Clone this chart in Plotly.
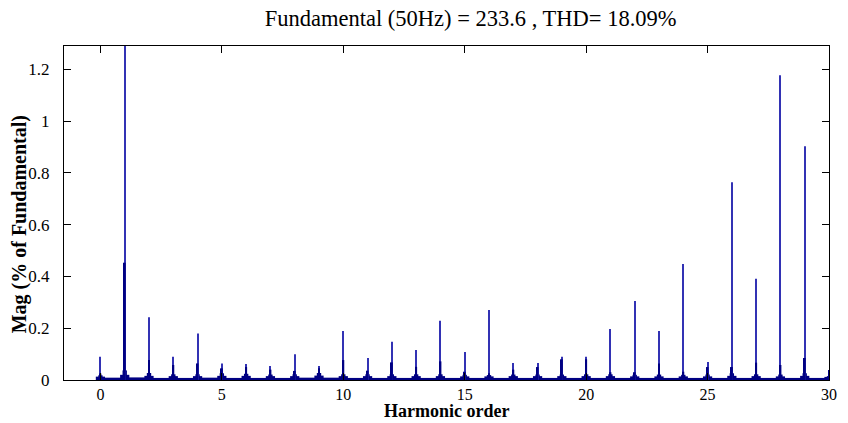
import plotly.graph_objects as go

# Harmonic orders
harmonics = list(range(0, 31))

# Main (thin) spike magnitude at each harmonic, % of fundamental (fundamental clipped)
peak = [0.090, 100.0, 0.242, 0.090, 0.180, 0.064, 0.062, 0.054, 0.099, 0.054,
        0.189, 0.085, 0.148, 0.116, 0.229, 0.108, 0.270, 0.066, 0.066, 0.090,
        0.090, 0.197, 0.305, 0.189, 0.448, 0.070, 0.764, 0.391, 1.177, 0.903,
        0.039]

# Thicker base part of each spike
base = [0.025, 0.453, 0.077, 0.058, 0.064, 0.045, 0.050, 0.040, 0.035, 0.045,
        0.077, 0.036, 0.068, 0.051, 0.072, 0.032, 0.026, 0.040, 0.050, 0.080,
        0.080, 0.030, 0.030, 0.064, 0.032, 0.050, 0.050, 0.067, 0.058, 0.085,
        0.039]

# Inner skirt around each harmonic
skirt_in = [0.018, 0.037, 0.027, 0.022, 0.022, 0.026, 0.024, 0.021, 0.022, 0.027,
            0.022, 0.022, 0.022, 0.022, 0.022, 0.020, 0.019, 0.021, 0.021, 0.021,
            0.022, 0.022, 0.020, 0.021, 0.020, 0.021, 0.026, 0.022, 0.021, 0.026,
            0.015]

# Outer skirt around each harmonic
skirt_out = [0.013, 0.020, 0.016, 0.015, 0.015, 0.016, 0.016, 0.015, 0.015, 0.017,
             0.015, 0.015, 0.015, 0.015, 0.015, 0.014, 0.014, 0.015, 0.015, 0.015,
             0.015, 0.015, 0.014, 0.014, 0.014, 0.014, 0.016, 0.015, 0.014, 0.016,
             0.012]

# Noise floor between consecutive harmonics (interval centres)
floor_x = [h + 0.5 for h in range(0, 30)]
floor_y = [0.009, 0.010, 0.008, 0.008, 0.009, 0.008, 0.008, 0.008, 0.009, 0.009,
           0.008, 0.008, 0.008, 0.008, 0.008, 0.008, 0.008, 0.008, 0.008, 0.008,
           0.008, 0.008, 0.008, 0.008, 0.008, 0.008, 0.008, 0.008, 0.008, 0.008]

x_ticks = [0, 5, 10, 15, 20, 25, 30]
y_ticks = [0, 0.2, 0.4, 0.6, 0.8, 1.0, 1.2]
y_tick_text = ["0", "0.2", "0.4", "0.6", "0.8", "1", "1.2"]

navy = "rgb(0,0,130)"
thin = "rgb(50,50,180)"

fig = go.Figure()
fig.add_trace(go.Bar(x=floor_x, y=floor_y, width=1.0, marker=dict(color=navy, line=dict(width=0))))
fig.add_trace(go.Bar(x=harmonics, y=skirt_out, width=0.38, marker=dict(color=navy, line=dict(width=0))))
fig.add_trace(go.Bar(x=harmonics, y=skirt_in, width=0.18, marker=dict(color=navy, line=dict(width=0))))
fig.add_trace(go.Bar(x=harmonics, y=peak, width=0.045, marker=dict(color=thin, line=dict(width=0))))
fig.add_trace(go.Bar(x=harmonics, y=base, width=0.08, marker=dict(color=navy, line=dict(width=0))))

serif = "Liberation Serif"

fig.update_layout(
    width=848, height=423,
    barmode="overlay",
    showlegend=False,
    paper_bgcolor="white",
    plot_bgcolor="white",
    margin=dict(l=64, r=11, t=46, b=43),
    font=dict(family=serif, size=17, color="black"),
    title=dict(text="Fundamental (50Hz) = 233.6 , THD= 18.09%",
               x=0.555, xanchor="center", y=0.957, yanchor="middle",
               font=dict(family=serif, size=22.5, color="black")),
)

fig.update_xaxes(
    range=[-1.5, 30], tickvals=x_ticks, ticktext=[str(v) for v in x_ticks],
    ticks="inside", ticklen=7, tickcolor="black", mirror="allticks",
    showline=True, linecolor="black", linewidth=1, showgrid=False, zeroline=False,
    tickfont=dict(family=serif, size=16),
)
fig.update_yaxes(
    range=[0, 1.29], tickvals=y_ticks, ticktext=y_tick_text,
    ticks="inside", ticklen=7, tickcolor="black", mirror="allticks",
    showline=True, linecolor="black", linewidth=1, showgrid=False, zeroline=False,
    tickfont=dict(family=serif, size=17), ticklabelstandoff=10,
)

fig.add_annotation(text="<b>Harmonic order</b>", xref="paper", yref="paper",
                   x=0.5, y=-0.093, xanchor="center", yanchor="middle", showarrow=False,
                   borderpad=0,
                   font=dict(family=serif, size=18, color="black"))
fig.add_annotation(text="<b>Mag (% of Fundamental)</b>", xref="paper", yref="paper",
                   x=-0.058, y=0.465, xanchor="center", yanchor="middle", textangle=-90,
                   showarrow=False,
                   font=dict(family=serif, size=20, color="black"))

fig.write_html("out.html", config={"displayModeBar": False},
               post_script="document.body.style.margin='0';")
